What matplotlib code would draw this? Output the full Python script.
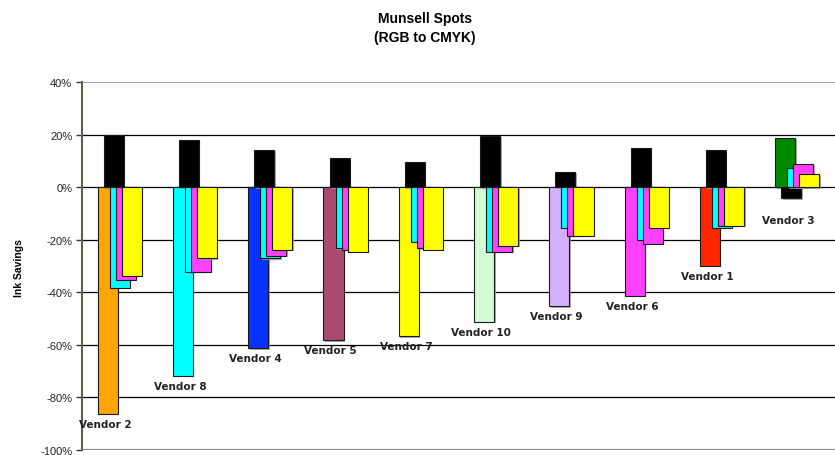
import matplotlib
matplotlib.use("Agg")
import matplotlib.pyplot as plt
import matplotlib.patheffects as pe
import numpy as np
from matplotlib.ticker import FuncFormatter

plt.rcParams['font.family'] = ['Liberation Sans', 'DejaVu Sans']

# Ink savings per vendor spot (percent)
vendors = ["Vendor 2", "Vendor 8", "Vendor 4", "Vendor 5", "Vendor 7",
           "Vendor 10", "Vendor 9", "Vendor 6", "Vendor 1", "Vendor 3"]
spot_colors = ["#FFA500", "#00FFFF", "#0A32FF", "#AA4A72", "#FFFF00",
               "#D2FCD2", "#D4B0FF", "#FF40FF", "#FF2600", "#008A00"]
spot = [-86.3, -71.8, -61.3, -58.2, -56.7, -51.3, -45.3, -41.4, -30.0, 18.7]
black = [20.0, 18.1, 14.3, 11.1, 9.6, 19.5, 5.8, 14.9, 14.3, -4.3]
cyan = [-38.4, -32.3, -27.0, -23.2, -20.9, -24.7, -15.5, -20.1, -15.5, 7.3]
magenta = [-35.2, -32.3, -26.2, -23.9, -23.2, -24.7, -18.6, -21.6, -14.8, 8.8]
yellow = [-33.7, -27.0, -23.9, -24.7, -23.9, -22.4, -18.6, -15.5, -14.8, 5.0]

fig = plt.figure(figsize=(8.35, 4.56), dpi=100)
ax = fig.add_axes([82 / 835, 5 / 456, 753 / 835, 368 / 456])

x = np.arange(len(vendors))
w = 0.266
step = 0.08
shadow = [pe.SimplePatchShadow(offset=(1.0, -1.0), shadow_rgbFace="#999999", alpha=0.8),
          pe.Normal()]

series = [
    (spot, spot_colors),
    (black, ["#000000"] * len(vendors)),
    (cyan, ["#00FFFF"] * len(vendors)),
    (magenta, ["#FF40FF"] * len(vendors)),
    (yellow, ["#FFFF00"] * len(vendors)),
]
offsets = [-2 * step, -step, 0, step, 2 * step]
for (vals, cols), off in zip(series, offsets):
    bars = ax.bar(x + off, vals, width=w, color=cols, edgecolor="#1a1a1a",
                  linewidth=0.8, zorder=3)
    for b in bars:
        b.set_path_effects(shadow)

# Vendor names under the lowest bar of each group
for i, name in enumerate(vendors):
    group = [spot[i], black[i], cyan[i], magenta[i], yellow[i]]
    k = int(np.argmin(group))
    dy = -12 if spot[i] > 0 else -3.5
    ax.annotate(name, xy=(x[i] + offsets[k], group[k]), xytext=(-2, dy),
                textcoords="offset points", ha="center", va="top",
                fontsize=7.5, fontweight="bold", color="#222222",
                family="DejaVu Sans", zorder=5)

ax.set_xlim(-0.5, len(vendors) - 0.5)
ax.set_ylim(-100, 40)
ax.set_yticks(np.arange(-100, 41, 20))
ax.yaxis.set_major_formatter(FuncFormatter(lambda v, p: f"{v:.0f}%"))
ax.tick_params(axis="y", direction="out", length=4, width=1, color="#333333",
               labelsize=8, labelcolor="#222222", pad=3)
ax.set_xticks([])

for yv in range(-80, 21, 20):
    ax.axhline(yv, color="#000000", linewidth=0.9, zorder=1)

for s in ["top", "bottom", "right"]:
    ax.spines[s].set_visible(False)
ax.axhline(40, color="#8c8c8c", linewidth=1.2, zorder=1)
ax.axhline(-100, color="#8c8c8c", linewidth=1.6, zorder=1)
ax.spines["left"].set_color("#5f5f4f")
ax.spines["left"].set_linewidth(1.5)

fig.text(19 / 835, 1 - 268 / 456, "Ink Savings", rotation=90, ha="center",
         va="center", fontsize=7.5, fontweight="bold")

fig.text(425 / 835, 1 - 19 / 456, "Munsell Spots", ha="center", va="center",
         fontsize=10, fontweight="bold")
fig.text(425 / 835, 1 - 38 / 456, "(RGB to CMYK)", ha="center", va="center",
         fontsize=10, fontweight="bold")

fig.savefig("out.png", dpi=100)
